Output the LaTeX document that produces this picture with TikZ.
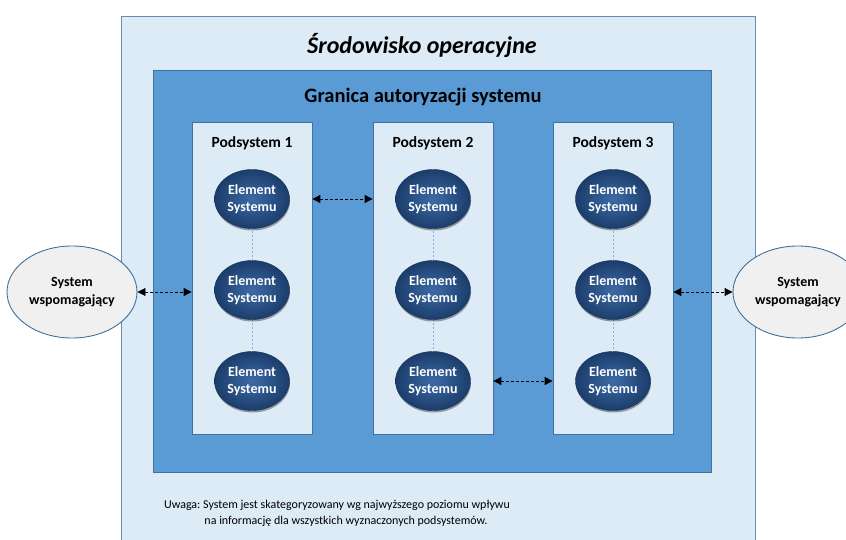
\documentclass[tikz,border=0pt]{standalone}
\usepackage{fontspec}
\setmainfont{Carlito}
\usetikzlibrary{shapes.geometric,arrows.meta,shadows}

\definecolor{paleblue}{HTML}{DDEBF7}
\definecolor{midblue}{HTML}{5B9BD5}
\definecolor{edgeblue}{HTML}{41719C}
\definecolor{elinner}{HTML}{3D6BA6}
\definecolor{elouter}{HTML}{1B3D6B}
\definecolor{linkblue}{HTML}{8FAADC}
\definecolor{helpergrey}{HTML}{F0F0F0}

\tikzset{
  envbox/.style={draw=edgeblue!80, fill=paleblue, line width=0.9pt, minimum width=634, minimum height=544},
  authbox/.style={draw=edgeblue, fill=midblue, line width=0.9pt, minimum width=558, minimum height=402},
  subbox/.style={draw=edgeblue, fill=paleblue, line width=0.8pt, minimum width=120, minimum height=312},
  element/.style={ellipse, minimum width=75, minimum height=59, inner sep=0pt,
    shading=radial, inner color=elinner, outer color=elouter, draw=elouter!80!black, line width=0.4pt,
    drop shadow={shadow xshift=0.5pt, shadow yshift=-2pt, opacity=0.35, fill=black},
    text=white, font=\bfseries\fontsize{14}{17}\selectfont, align=center},
  helper/.style={ellipse, minimum width=130, minimum height=92, inner sep=0pt,
    fill=helpergrey, draw=edgeblue, line width=0.9pt, font=\bfseries\fontsize{14}{18}\selectfont, align=center},
  link/.style={draw=linkblue, dashed, line width=0.6pt, dash pattern=on 2pt off 2pt},
  conn/.style={draw=black, line width=0.9pt, dash pattern=on 3pt off 2pt,
    {Triangle[length=8pt,width=8pt]}-{Triangle[length=8pt,width=8pt]}},
  sublabel/.style={font=\bfseries\fontsize{15.5}{18}\selectfont},
}

\begin{document}
\frenchspacing
\begin{tikzpicture}[x=1pt,y=-1pt]
\useasboundingbox (0,0) rectangle (846,540);
\begin{scope}
\clip (0,0) rectangle (846,540);

% operating environment and authorization boundary
\node[envbox] (env) at (438,288) {};
\node[font=\bfseries\itshape\fontsize{24}{28}\selectfont] (envtitle) at (422,45) {Środowisko operacyjne};
\node[authbox] (auth) at (432,271) {};
\node[font=\bfseries\fontsize{20.5}{24}\selectfont] (authtitle) at (423,97) {Granica autoryzacji systemu};

% subsystems
\node[subbox] (p1) at (252,278) {};
\node[subbox] (p2) at (433,278) {};
\node[subbox] (p3) at (613,278) {};
\node[sublabel] (p1t) at (252,143) {Podsystem 1};
\node[sublabel] (p2t) at (433,143) {Podsystem 2};
\node[sublabel] (p3t) at (613,143) {Podsystem 3};

% links inside each subsystem (drawn first so elements cover them)
\foreach \x/\s in {252/1,433/2,613/3}{
  \coordinate (a\s) at (\x,199);
  \coordinate (b\s) at (\x,290);
  \coordinate (c\s) at (\x,381);
  \draw[link] (a\s) -- (b\s) -- (c\s);
}

% system elements
\foreach \x/\s in {252/1,433/2,613/3}{
  \node[element] (e\s1) at (\x,199) {Element\\Systemu};
  \node[element] (e\s2) at (\x,290) {Element\\Systemu};
  \node[element] (e\s3) at (\x,381) {Element\\Systemu};
}

% supporting systems
\node[helper] (sysL) at (72,292) {System\\wspomagający};
\node[helper] (sysR) at (798,292) {System\\wspomagający};

% connections
\draw[conn] (e11 -| p1.east) -- (e21 -| p2.west);
\draw[conn] (e23 -| p2.east) -- (e33 -| p3.west);
\draw[conn] (sysL.east) -- (sysL.east -| p1.west);
\draw[conn] (sysR.west -| p3.east) -- (sysR.west);

% note
\node[font=\fontsize{12}{16}\selectfont, align=center] (note) at (337,513)
  {Uwaga: System jest skategoryzowany wg najwyższego poziomu wpływu\\
   \hspace*{18pt}na informację dla wszystkich wyznaczonych podsystemów.};
\end{scope}
\end{tikzpicture}
\end{document}
